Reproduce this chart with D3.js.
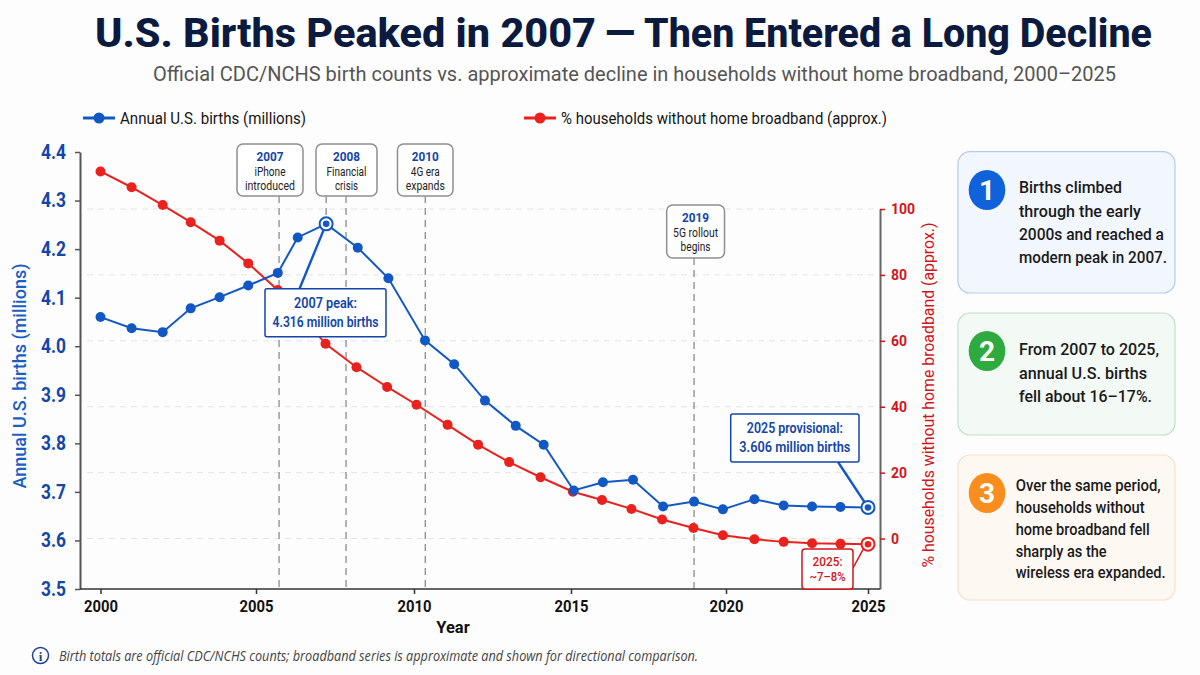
<!DOCTYPE html>
<html>
<head>
<meta charset="utf-8">
<title>U.S. Births Peaked in 2007</title>
<script src="https://cdn.jsdelivr.net/npm/d3@7"></script>
<style>
  html, body { margin: 0; padding: 0; background: #fdfdfd; }
  svg { display: block; font-family: Roboto, "Noto Sans", sans-serif; }
  .grid line { stroke: #e4e4e4; stroke-dasharray: 6 5; }
  .ev { stroke: #9a9a9a; stroke-width: 1.5; stroke-dasharray: 7 5; }
</style>
</head>
<body>
<div id="chart"></div>
<script>
// values. the points do not sit exactly on the year ticks
// in the original so each series keeps its own x position
var xTickYears = [2000, 2005, 2010, 2015, 2020, 2025];
var xTickPixels = [100.5, 256, 414, 571, 726, 868];

var birthYears = [2000, 2001, 2002, 2002.9, 2003.83, 2004.75, 2005.69, 2006.32, 2007.22, 2008.22, 2009.19, 2010.35, 2011.28, 2012.26, 2013.24, 2014.13, 2015.09, 2016.03, 2017, 2017.97, 2018.97, 2019.9, 2021, 2022.03, 2023.03, 2024.03, 2025];
var births = [4.06, 4.037, 4.029, 4.078, 4.101, 4.125, 4.151, 4.224, 4.252, 4.203, 4.14, 4.012, 3.963, 3.888, 3.836, 3.797, 3.703, 3.72, 3.725, 3.67, 3.68, 3.664, 3.685, 3.672, 3.67, 3.669, 3.668];

var broadbandYears = [2000, 2001, 2002, 2002.9, 2003.83, 2004.75, 2005.69, 2006.45, 2007.2, 2008.18, 2009.15, 2010.08, 2011.07, 2012.04, 2013.03, 2014.03, 2015.06, 2016, 2016.95, 2017.94, 2018.95, 2019.9, 2021, 2022.03, 2023.03, 2024.03, 2025];
var broadband = [111.4, 106.6, 101.2, 96, 90.4, 83.5, 75.4, 67.5, 59.1, 52, 46, 40.6, 34.5, 28.5, 23.2, 18.6, 14.2, 11.7, 9, 5.8, 3.2, 1, -0.2, -1, -1.4, -1.6, -1.7];

var birthTicks = [3.5, 3.6, 3.7, 3.8, 3.9, 4.0, 4.1, 4.2, 4.3, 4.4];
var broadbandTicks = [0, 20, 40, 60, 80, 100];

var eventYears = ["2007", "2008", "2010", "2019"];
var eventText = [["iPhone", "introduced"], ["Financial", "crisis"], ["4G era", "expands"], ["5G rollout", "begins"]];
var eventPos = [2005.73, 2007.85, 2010.36, 2018.97];

var titleParts = ["U.S. Births Peaked in 2007", "\u2014", "Then Entered a Long Decline"];

var cardText = [
  ["Births climbed", "through the early", "2000s and reached a", "modern peak in 2007."],
  ["From 2007 to 2025,", "annual U.S. births", "fell about 16\u201317%."],
  ["Over the same period,", "households without", "home broadband fell", "sharply as the", "wireless era expanded."]
];

var blue = "#1258c5", red = "#ea211d", blueText = "#1346a8", redText = "#d3141a";

var svg = d3.select("#chart").append("svg").attr("width", 1200).attr("height", 675);

var x = d3.scaleLinear().domain(xTickYears).range(xTickPixels);
var yL = d3.scaleLinear().domain([3.5, 4.4]).range([589, 152]);
var yR = d3.scaleLinear().domain([-15.3, 100]).range([589, 209]);

// title block, three pieces so the dash lands where it does in the original
var titleX = [95, 605, 644], titleLen = [501, 30, 508];
var title = svg.append("text").attr("y", 47)
  .attr("font-size", 41).attr("font-weight", 800).attr("fill", "#0b1a3f");
titleParts.forEach(function(t, i) {
  title.append("tspan").attr("x", titleX[i]).attr("textLength", titleLen[i])
    .attr("lengthAdjust", "spacingAndGlyphs").text(t);
  if (i < 2) title.node().appendChild(document.createTextNode(" "));
});
svg.append("text").attr("x", 634.5).attr("y", 81).attr("text-anchor", "middle")
  .attr("font-size", 20.5).attr("fill", "#555")
  .attr("textLength", 963).attr("lengthAdjust", "spacingAndGlyphs")
  .text("Official CDC/NCHS birth counts vs. approximate decline in households without home broadband, 2000\u20132025");

// legend
function legendItem(x0, col, label, len) {
  svg.append("line").attr("x1", x0).attr("x2", x0 + 32).attr("y1", 118).attr("y2", 118)
    .attr("stroke", col).attr("stroke-width", 3);
  svg.append("circle").attr("cx", x0 + 16).attr("cy", 118).attr("r", 5.5).attr("fill", col);
  svg.append("text").attr("x", x0 + 37).attr("y", 123.5).attr("font-size", 16.5).attr("fill", "#161616")
    .attr("textLength", len).attr("lengthAdjust", "spacingAndGlyphs").text(label);
}
legendItem(83, blue, "Annual U.S. births (millions)", 186);
legendItem(524, red, "% households without home broadband (approx.)", 326);

// gridlines come from the right hand axis
svg.append("g").attr("class", "grid").selectAll("line").data(broadbandTicks).enter().append("line")
  .attr("x1", 87).attr("x2", 880)
  .attr("y1", function(d) { return yR(d); })
  .attr("y2", function(d) { return yR(d); });

// event lines
svg.selectAll(".ev").data(eventPos).enter().append("line").attr("class", "ev")
  .attr("x1", function(d) { return x(d); })
  .attr("x2", function(d) { return x(d); })
  .attr("y1", function(d, i) { return i == 3 ? 258 : 196; })
  .attr("y2", 589);
svg.append("line").attr("class", "ev")
  .attr("x1", x(2007.22)).attr("x2", x(2007.22)).attr("y1", 196).attr("y2", yL(4.252));

// axes
var axL = svg.append("g").attr("transform", "translate(80,0)")
  .call(d3.axisLeft(yL).tickValues(birthTicks).tickFormat(d3.format(".1f")).tickSize(5).tickSizeOuter(0).tickPadding(9));
axL.select(".domain").attr("stroke", "#555").attr("stroke-width", 2);
axL.selectAll(".tick line").attr("stroke", "#555").attr("stroke-width", 1.5);
axL.selectAll("text").attr("font-size", 20).attr("font-weight", 700).attr("fill", blueText).attr("font-family", "Roboto")
  .attr("textLength", 25).attr("lengthAdjust", "spacingAndGlyphs");

var axR = svg.append("g").attr("transform", "translate(880,0)")
  .call(d3.axisRight(yR).tickValues(broadbandTicks).tickSize(5).tickSizeOuter(0).tickPadding(6));
axR.select(".domain").attr("stroke", "#666").attr("stroke-width", 2);
axR.selectAll(".tick line").attr("stroke", redText).attr("stroke-width", 1.5);
axR.selectAll("text").attr("font-size", 14).attr("font-weight", 700).attr("fill", redText).attr("font-family", "Roboto");

var axB = svg.append("g").attr("transform", "translate(0,589)")
  .call(d3.axisBottom(x).tickValues(xTickYears).tickFormat(d3.format("d")).tickSize(5).tickSizeOuter(0).tickPadding(7));
axB.select(".domain").remove();
axB.append("line").attr("x1", 80).attr("x2", 880).attr("stroke", "#333").attr("stroke-width", 1.5);
axB.selectAll(".tick line").attr("stroke", "#333").attr("stroke-width", 1.5);
axB.selectAll("text").attr("font-size", 16).attr("font-weight", 700).attr("fill", "#111").attr("font-family", "Roboto")
  .attr("textLength", 34).attr("lengthAdjust", "spacingAndGlyphs");

// axis titles
svg.append("text").attr("transform", "translate(26,376) rotate(-90)").attr("text-anchor", "middle")
  .attr("font-size", 19).attr("font-weight", 500).attr("fill", "#1a5ec4")
  .attr("textLength", 225).attr("lengthAdjust", "spacingAndGlyphs").text("Annual U.S. births (millions)");
svg.append("text").attr("transform", "translate(934,395) rotate(-90)").attr("text-anchor", "middle")
  .attr("font-size", 17).attr("fill", redText)
  .attr("textLength", 345).attr("lengthAdjust", "spacingAndGlyphs").text("% households without home broadband (approx.)");
svg.append("text").attr("x", 453).attr("y", 633).attr("text-anchor", "middle")
  .attr("font-size", 16.5).attr("font-weight", 700).attr("fill", "#111").text("Year");

// the two series
var birthPts = births.map(function(d, i) { return [birthYears[i], d]; });
var broadPts = broadband.map(function(d, i) { return [broadbandYears[i], d]; });

function drawSeries(pts, yScale, col) {
  var line = d3.line().x(function(d) { return x(d[0]); }).y(function(d) { return yScale(d[1]); });
  svg.append("path").attr("d", line(pts)).attr("fill", "none").attr("stroke", col).attr("stroke-width", 2);
  svg.append("g").selectAll("circle").data(pts).enter().append("circle")
    .attr("cx", function(d) { return x(d[0]); })
    .attr("cy", function(d) { return yScale(d[1]); })
    .attr("r", 5).attr("fill", col);
}
drawSeries(broadPts, yR, red);
drawSeries(birthPts, yL, blue);

function ring(px, py, col) {
  svg.append("circle").attr("cx", px).attr("cy", py).attr("r", 6.5).attr("fill", "#fff").attr("stroke", col).attr("stroke-width", 2);
  svg.append("circle").attr("cx", px).attr("cy", py).attr("r", 3.3).attr("fill", col);
}

// connectors then callouts
var peakX = x(2007.22), peakY = yL(4.252);
var endX = x(2025), endBirthY = yL(3.668), endBroadY = yR(-1.7);
function connector(x1, y1, x2, y2, col, w) {
  svg.append("line").attr("x1", x1).attr("y1", y1).attr("x2", x2).attr("y2", y2).attr("stroke", col).attr("stroke-width", w);
}
connector(peakX, peakY, 299, 290, blue, 2.4);
connector(endX, endBirthY, 838, 462, blue, 2.4);
connector(endX - 2, endBroadY, 853, 568, redText, 1.5);
ring(peakX, peakY, blue);
ring(endX, endBirthY, blue);
ring(endX, endBroadY, red);

function callout(x0, y0, w, h, stroke, lines, cols, size, weight, ys, rx, lens) {
  svg.append("rect").attr("x", x0).attr("y", y0).attr("width", w).attr("height", h).attr("rx", rx)
    .attr("fill", "#fff").attr("stroke", stroke).attr("stroke-width", 1.5);
  lines.forEach(function(t, i) {
    svg.append("text").attr("x", x0 + w / 2).attr("y", ys[i]).attr("text-anchor", "middle")
      .attr("font-size", size[i]).attr("font-weight", weight[i]).attr("fill", cols[i])
      .attr("textLength", lens[i]).attr("lengthAdjust", "spacingAndGlyphs").text(t);
  });
}

var boxes = [[237, 144, 66, 52], [316, 144, 61, 52], [397.5, 144, 55.5, 52], [666.7, 205, 57.8, 53]];
var boxLens = [[27, 31, 50], [27, 40, 23], [27, 29, 39], [27, 45, 30]];
boxes.forEach(function(b, i) {
  var ys = [b[1] + 17, b[1] + 32, b[1] + 45.5];
  callout(b[0], b[1], b[2], b[3], "#8e8e8e",
    [eventYears[i], eventText[i][0], eventText[i][1]],
    [blueText, "#222", "#222"], [13, 12, 12], [700, 400, 400], ys, 6, boxLens[i]);
});

callout(265, 288.7, 121, 48, blueText, ["2007 peak:", "4.316 million births"], [blueText, blueText], [14.5, 14.5], [600, 600], [308, 326.7], 2, [63, 106]);
callout(730.7, 414, 128.3, 48, blueText, ["2025 provisional:", "3.606 million births"], [blueText, blueText], [14.5, 14.5], [600, 600], [433, 451.7], 2, [96, 111]);
callout(802, 549, 51, 40, redText, ["2025:", "~7\u20138%"], [redText, redText], [13, 13], [500, 500], [565.7, 581], 3, [30, 36]);

// right side cards
var cards = [
  { y: 151.7, h: 141.3, fill: "#f2f6fd", stroke: "#b5cbec", col: "#0f62d9", cy: 190, tx: 1019, base: [193.3, 217, 240, 263], lens: [103, 122, 145, 148] },
  { y: 313, h: 122, fill: "#f3f9f4", stroke: "#c4dfc8", col: "#2eaa3f", cy: 351, tx: 1019, base: [355, 379, 402], lens: [140, 128, 133] },
  { y: 455, h: 145, fill: "#fef8f2", stroke: "#f7e0c8", col: "#f98e1e", cy: 493, tx: 1015.7, base: [490.7, 512.7, 535, 556.7, 578], lens: [145, 129, 134, 91, 150] }
];
cards.forEach(function(c, i) {
  svg.append("rect").attr("x", 958).attr("y", c.y).attr("width", 217).attr("height", c.h).attr("rx", 12)
    .attr("fill", c.fill).attr("stroke", c.stroke).attr("stroke-width", 1.2);
  svg.append("ellipse").attr("cx", 987).attr("cy", c.cy).attr("rx", 18.3).attr("ry", 20).attr("fill", c.col);
  svg.append("text").attr("x", 987).attr("y", c.cy + 10).attr("text-anchor", "middle")
    .attr("font-size", 28).attr("font-weight", 700).attr("fill", "#fff").text(i + 1);
  cardText[i].forEach(function(t, j) {
    svg.append("text").attr("x", c.tx).attr("y", c.base[j])
      .attr("font-size", 17).attr("font-weight", 500).attr("fill", "#1a1a1a")
      .attr("textLength", c.lens[j]).attr("lengthAdjust", "spacingAndGlyphs").text(t);
  });
});

// footnote
svg.append("circle").attr("cx", 40.5).attr("cy", 655.5).attr("r", 8).attr("fill", "none").attr("stroke", "#1a3f9e").attr("stroke-width", 1.5);
svg.append("text").attr("x", 40.5).attr("y", 660.5).attr("text-anchor", "middle").attr("font-size", 13)
  .attr("font-family", "Liberation Serif").attr("font-weight", 700).attr("fill", "#1a3f9e").text("i");
svg.append("text").attr("x", 59).attr("y", 660.5).attr("font-size", 14).attr("font-style", "italic").attr("fill", "#444")
  .attr("textLength", 639).attr("lengthAdjust", "spacingAndGlyphs")
  .attr("font-family", "'Open Sans', 'Noto Sans', sans-serif")
  .text("Birth totals are official CDC/NCHS counts; broadband series is approximate and shown for directional comparison.");
</script>
</body>
</html>
